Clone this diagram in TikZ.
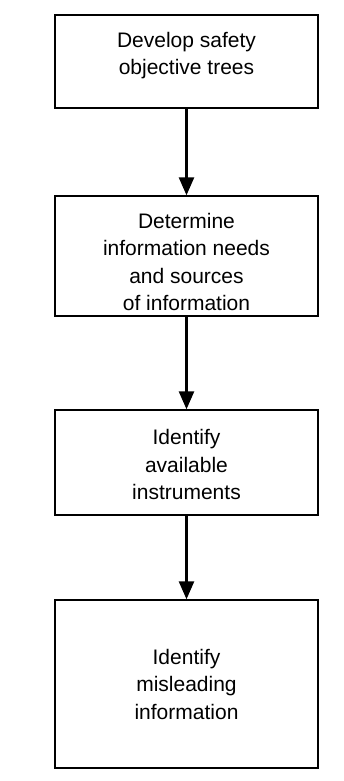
\documentclass[tikz,border=0pt]{standalone}
\usepackage{fontspec}
\setmainfont{Liberation Sans}
\usetikzlibrary{arrows.meta}
\tikzset{
  stepbox/.style={draw=black, line width=1.4pt, minimum width=263pt, inner sep=0pt},
  steptext/.style={align=center, inner sep=0pt, font=\fontsize{21}{27.5}\selectfont, text=black},
  flow/.style={line width=2.6pt, -{Triangle[length=18pt,width=15pt]}, shorten <=-0.7pt}
}
\begin{document}
\begin{tikzpicture}[x=1pt,y=1pt]
  \useasboundingbox (0,0) rectangle (344,-781);
  % the four process boxes
  \node[stepbox, minimum height=93pt]  (b1) at (186.5,-61.5) {};
  \node[stepbox, minimum height=120pt] (b2) at (186.5,-256)  {};
  \node[stepbox, minimum height=105pt] (b3) at (186.5,-462.5) {};
  \node[stepbox, minimum height=168pt] (b4) at (186.5,-684)  {};
  % their captions
  \node[steptext] (t1) at ([yshift=6pt]b1.center)  {Develop safety\\objective trees};
  \node[steptext] (t2) at ([yshift=-6pt]b2.center) {Determine\\information needs\\and sources\\of information};
  \node[steptext] (t3) at ([yshift=-2pt]b3.center) {Identify\\available\\instruments};
  \node[steptext] (t4) at (b4.center)              {Identify\\misleading\\information};
  % flow between the steps
  \draw[flow] (b1.south) -- (b2.north);
  \draw[flow] (b2.south) -- (b3.north);
  \draw[flow] (b3.south) -- (b4.north);
\end{tikzpicture}
\end{document}
